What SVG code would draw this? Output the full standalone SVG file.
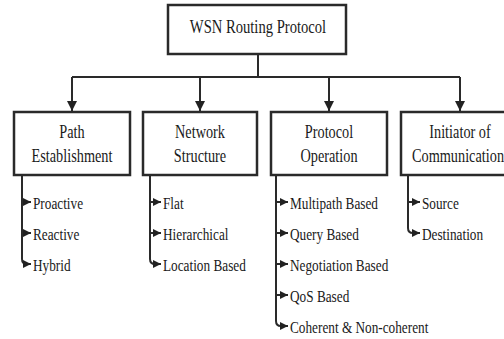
<svg xmlns="http://www.w3.org/2000/svg" width="504" height="339" viewBox="0 0 504 339">
<defs>
<marker id="ah" markerUnits="userSpaceOnUse" markerWidth="10" markerHeight="10" viewBox="0 0 10 10" refX="10" refY="5" orient="auto"><path d="M0,0 L10,5 L0,10 Z" fill="#222"/></marker>
<marker id="as" markerUnits="userSpaceOnUse" markerWidth="8" markerHeight="8" viewBox="0 0 10 10" refX="10" refY="5" orient="auto"><path d="M0,0 L10,5 L0,10 Z" fill="#222"/></marker>
</defs>
<style>
.box{fill:#fff;stroke:#2a2a2a;stroke-width:2.5}
.ln{fill:none;stroke:#2a2a2a;stroke-width:2}
text{font-family:'Liberation Serif','Times New Roman',serif;fill:#1a1a1a}
.h{font-size:18px;text-anchor:middle}
.s{font-size:17px}
</style>
<rect width="504" height="339" fill="#fff"/>
<g id="connectors">
<path class="ln" d="M258,54 V77 M72,77 H460"/>
<path class="ln" d="M72,77 V111" marker-end="url(#ah)"/>
<path class="ln" d="M200,77 V111" marker-end="url(#ah)"/>
<path class="ln" d="M329,77 V111" marker-end="url(#ah)"/>
<path class="ln" d="M460,77 V111" marker-end="url(#ah)"/>
<path class="ln" d="M22,175 V259 Q22,264 27,264 H31" marker-end="url(#as)"/>
<path class="ln" d="M22,202 H31" marker-end="url(#as)"/>
<path class="ln" d="M22,233 H31" marker-end="url(#as)"/>
<path class="ln" d="M150,175 V259 Q150,264 155,264 H161" marker-end="url(#as)"/>
<path class="ln" d="M150,202 H161" marker-end="url(#as)"/>
<path class="ln" d="M150,233 H161" marker-end="url(#as)"/>
<path class="ln" d="M276,175 V321 Q276,326 281,326 H288" marker-end="url(#as)"/>
<path class="ln" d="M276,202 H288" marker-end="url(#as)"/>
<path class="ln" d="M276,233 H288" marker-end="url(#as)"/>
<path class="ln" d="M276,264 H288" marker-end="url(#as)"/>
<path class="ln" d="M276,295 H288" marker-end="url(#as)"/>
<path class="ln" d="M408,175 V228 Q408,233 413,233 H420" marker-end="url(#as)"/>
<path class="ln" d="M408,202 H420" marker-end="url(#as)"/>
</g>
<g id="root" font-family="Liberation Serif, serif">
<rect class="box" x="168" y="5" width="178" height="49"/>
<text class="h" transform="translate(258,32.5) scale(0.79,1)" style="font-size:18.5px">WSN Routing Protocol</text>
</g>
<g id="path-establishment" font-family="Liberation Serif, serif">
<rect class="box" x="14" y="112" width="116" height="63"/>
<text class="h" transform="translate(72,137.7) scale(0.794,1)">Path</text>
<text class="h" transform="translate(72,161.7) scale(0.794,1)">Establishment</text>
</g>
<g id="network-structure" font-family="Liberation Serif, serif">
<rect class="box" x="143" y="112" width="114" height="63"/>
<text class="h" transform="translate(200,137.7) scale(0.794,1)">Network</text>
<text class="h" transform="translate(200,161.7) scale(0.794,1)">Structure</text>
</g>
<g id="protocol-operation" font-family="Liberation Serif, serif">
<rect class="box" x="271" y="112" width="116" height="63"/>
<text class="h" transform="translate(329,137.7) scale(0.794,1)">Protocol</text>
<text class="h" transform="translate(329,161.7) scale(0.794,1)">Operation</text>
</g>
<g id="initiator-of-communication" font-family="Liberation Serif, serif">
<rect class="box" x="401" y="112" width="120" height="63"/>
<text class="h" transform="translate(460,137.7) scale(0.794,1)">Initiator of</text>
<text class="h" transform="translate(458,161.7) scale(0.794,1)">Communication</text>
</g>
<g id="path-items" font-family="Liberation Serif, serif">
<text class="s" transform="translate(33,209) scale(0.78,1)">Proactive</text>
<text class="s" transform="translate(33,240) scale(0.78,1)">Reactive</text>
<text class="s" transform="translate(33,271) scale(0.78,1)">Hybrid</text>
</g>
<g id="structure-items" font-family="Liberation Serif, serif">
<text class="s" transform="translate(163,209) scale(0.78,1)">Flat</text>
<text class="s" transform="translate(163,240) scale(0.78,1)">Hierarchical</text>
<text class="s" transform="translate(163,271) scale(0.78,1)">Location Based</text>
</g>
<g id="operation-items" font-family="Liberation Serif, serif">
<text class="s" transform="translate(290,209) scale(0.78,1)">Multipath Based</text>
<text class="s" transform="translate(290,240) scale(0.78,1)">Query Based</text>
<text class="s" transform="translate(290,271) scale(0.78,1)">Negotiation Based</text>
<text class="s" transform="translate(290,302) scale(0.78,1)">QoS Based</text>
<text class="s" transform="translate(290,333) scale(0.78,1)">Coherent &amp; Non-coherent</text>
</g>
<g id="initiator-items" font-family="Liberation Serif, serif">
<text class="s" transform="translate(422,209) scale(0.78,1)">Source</text>
<text class="s" transform="translate(422,240) scale(0.78,1)">Destination</text>
</g>
</svg>
